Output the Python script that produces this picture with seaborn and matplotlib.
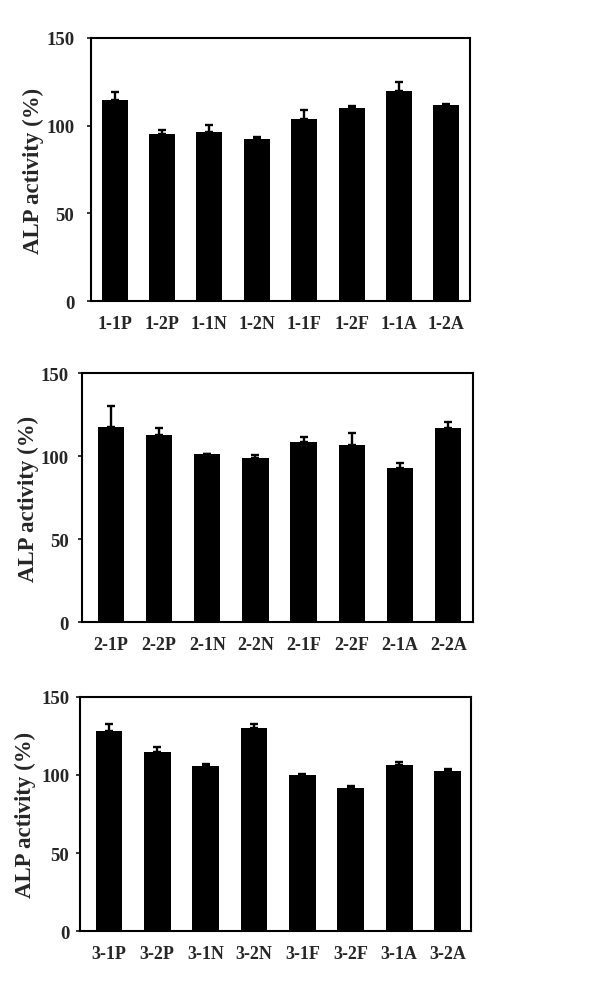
import matplotlib
matplotlib.use("Agg")
import matplotlib.pyplot as plt
import numpy as np
import pandas as pd
import seaborn as sns


LABELS_1 = ["1-1P", "1-2P", "1-1N", "1-2N", "1-1F", "1-2F", "1-1A", "1-2A"]
VALUES_1 = [114.5, 95.5, 96.5, 92.5, 104.0, 110.0, 119.5, 111.5]
ERRORS_1 = [4.5, 1.8, 3.8, 0.8, 5.2, 1.2, 5.3, 0.6]

LABELS_2 = ["2-1P", "2-2P", "2-1N", "2-2N", "2-1F", "2-2F", "2-1A", "2-2A"]
VALUES_2 = [117.7, 113.0, 101.2, 99.2, 108.4, 106.8, 93.2, 117.1]
ERRORS_2 = [12.4, 4.1, 0.0, 1.4, 3.0, 7.5, 2.8, 3.8]

LABELS_3 = ["3-1P", "3-2P", "3-1N", "3-2N", "3-1F", "3-2F", "3-1A", "3-2A"]
VALUES_3 = [128.3, 114.6, 105.5, 129.8, 99.9, 91.6, 106.1, 102.5]
ERRORS_3 = [4.4, 3.4, 1.3, 2.9, 0.7, 1.1, 2.4, 1.1]

Y_TICKS = [0, 50, 100, 150]
Y_LABEL = "ALP activity (%)"

# panel rectangles in figure fractions, plus x limits, y-label x offset and y tick pad
PANELS = [
    (LABELS_1, VALUES_1, ERRORS_1, [0.1514, 0.6992, 0.6306, 0.2620], (-0.50, 7.50), -0.125, 9),
    (LABELS_2, VALUES_2, ERRORS_2, [0.1370, 0.3792, 0.6505, 0.2480], (-0.59, 7.52), -0.110, 7),
    (LABELS_3, VALUES_3, ERRORS_3, [0.1336, 0.0714, 0.6506, 0.2337], (-0.59, 7.49), -0.113, 5),
]


def draw_panel(fig, labels, values, errors, rect, xlim, label_x, ypad):
    ax = fig.add_axes(rect)
    df = pd.DataFrame({"sample": labels, "activity": values})
    sns.barplot(
        data=df, x="sample", y="activity", color="black", saturation=1,
        width=0.55, errorbar=None, linewidth=0, ax=ax,
    )
    pos = np.arange(len(labels))
    ax.errorbar(
        pos, values, yerr=[np.zeros(len(errors)), errors], fmt="none",
        ecolor="black", elinewidth=1.7, capsize=3.2, capthick=1.7,
    )
    ax.set_xlim(*xlim)
    ax.set_ylim(0, 150)
    ax.set_yticks(Y_TICKS)
    ax.set_xlabel("")
    ax.set_ylabel(Y_LABEL, fontsize=16.5, fontweight="bold")
    ax.yaxis.set_label_coords(label_x, 0.5)
    for spine in ax.spines.values():
        spine.set_visible(True)
        spine.set_linewidth(1.5)
        spine.set_color("black")
    ax.tick_params(axis="x", length=0, pad=10, labelsize=13)
    ax.tick_params(axis="y", direction="out", length=3, width=1.3, pad=ypad, labelsize=13.5, left=True)
    for lbl in ax.get_xticklabels() + ax.get_yticklabels():
        lbl.set_fontweight("bold")
    return ax


def main() -> None:
    sns.set_style("white")
    plt.rcParams["font.family"] = ["Liberation Serif", "DejaVu Serif"]
    fig = plt.figure(figsize=(6.01, 10.04), dpi=100)
    for labels, values, errors, rect, xlim, label_x, ypad in PANELS:
        draw_panel(fig, labels, values, errors, rect, xlim, label_x, ypad)
    fig.savefig("out.png", dpi=100, facecolor="white")
    plt.close(fig)


if __name__ == "__main__":
    main()
